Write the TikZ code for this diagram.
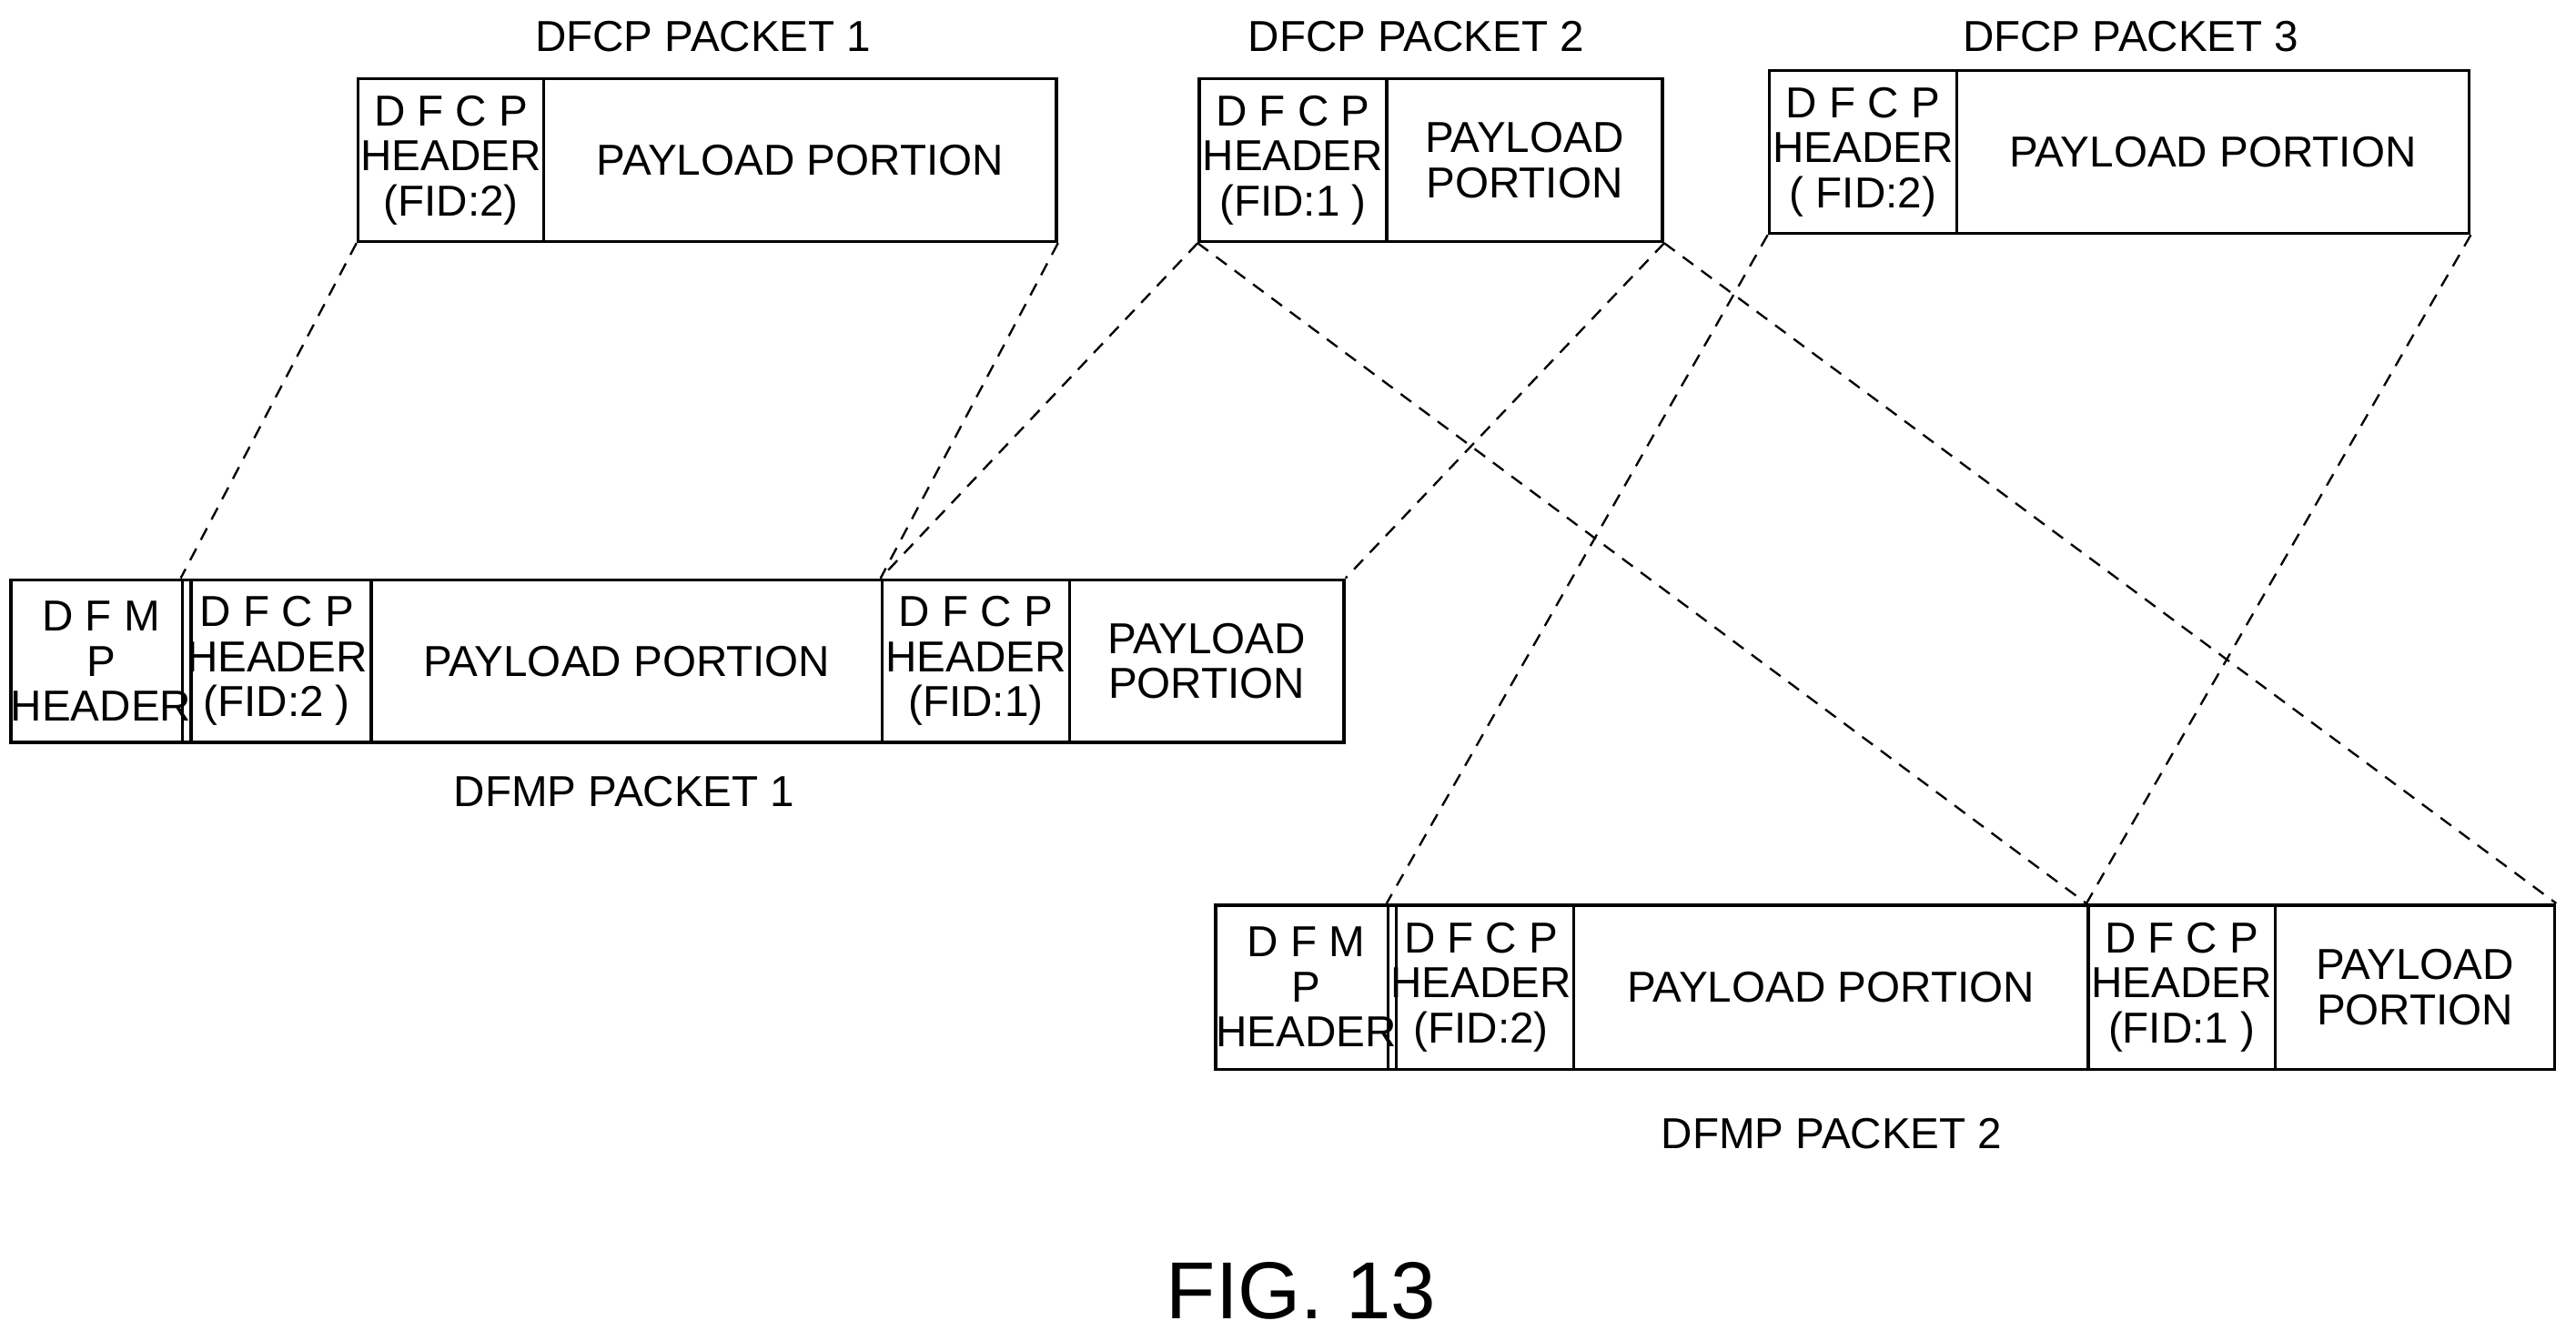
\documentclass[tikz,border=0pt]{standalone}
\usepackage{fontspec}
\setmainfont{Liberation Sans}
\begin{document}
\begin{tikzpicture}[x=0.1mm,y=-0.1mm,
  cell/.style={draw,line width=0.2mm,inner sep=0pt,align=center,font=\fontsize{7.5}{7.8}\selectfont},
  lbl/.style={font=\fontsize{7.5}{9}\selectfont},
  conn/.style={dashed,line width=0.13mm,dash pattern=on 0.8mm off 0.6mm}]
\useasboundingbox (0,0) rectangle (1568,816);
% DFCP packet 1
\node[cell,minimum width=11.3mm,minimum height=9.9mm] (a1) at (274.5,97.5) {D F C P\\HEADER\\(FID:2)};
\node[cell,minimum width=31.2mm,minimum height=9.9mm] (a2) at (487,97.5) {PAYLOAD PORTION};
% DFCP packet 2
\node[cell,minimum width=11.4mm,minimum height=9.9mm] (b1) at (787,97.5) {D F C P\\HEADER\\(FID:1 )};
\node[cell,minimum width=16.8mm,minimum height=9.9mm] (b2) at (928,97.5) {PAYLOAD\\PORTION};
% DFCP packet 3
\node[cell,minimum width=11.4mm,minimum height=9.9mm] (c1) at (1134,92.5) {D F C P\\HEADER\\( FID:2)};
\node[cell,minimum width=31.2mm,minimum height=9.9mm] (c2) at (1347,92.5) {PAYLOAD PORTION};
% DFMP packet 1
\node[cell,minimum width=9.9mm,minimum height=9.9mm] (m0) at (61.5,402.5) {D F M\\P\\HEADER};
\node[cell,minimum width=11.5mm,minimum height=9.9mm] (m1) at (168.5,402.5) {D F C P\\HEADER\\(FID:2 )};
\node[cell,minimum width=31.1mm,minimum height=9.9mm] (m2) at (381.5,402.5) {PAYLOAD PORTION};
\node[cell,minimum width=11.4mm,minimum height=9.9mm] (m3) at (594,402.5) {D F C P\\HEADER\\(FID:1)};
\node[cell,minimum width=16.7mm,minimum height=9.9mm] (m4) at (734.5,402.5) {PAYLOAD\\PORTION};
% DFMP packet 2
\node[cell,minimum width=10.0mm,minimum height=10.0mm] (n0) at (795,601) {D F M\\P\\HEADER};
\node[cell,minimum width=11.3mm,minimum height=10.0mm] (n1) at (901.5,601) {D F C P\\HEADER\\(FID:2)};
\node[cell,minimum width=31.3mm,minimum height=10.0mm] (n2) at (1114.5,601) {PAYLOAD PORTION};
\node[cell,minimum width=11.4mm,minimum height=10.0mm] (n3) at (1328,601) {D F C P\\HEADER\\(FID:1 )};
\node[cell,minimum width=17.0mm,minimum height=10.0mm] (n4) at (1470,601) {PAYLOAD\\PORTION};
% labels
\node[lbl] (la) at (428,22) {DFCP PACKET 1};
\node[lbl] (lb) at (862,22) {DFCP PACKET 2};
\node[lbl] (lc) at (1297,22) {DFCP PACKET 3};
\node[lbl] (lm) at (380,482) {DFMP PACKET 1};
\node[lbl] (ln) at (1115,690) {DFMP PACKET 2};
\node[font=\fontsize{14}{16}\selectfont] (fig) at (792,786) {FIG. 13};
% connectors
\draw[conn] (a1.south west) -- (m1.north west);
\draw[conn] (a2.south east) -- (m3.north west);
\draw[conn] (b1.south west) -- (m3.north west);
\draw[conn] (b1.south west) -- (n3.north west);
\draw[conn] (b2.south east) -- (m4.north east);
\draw[conn] (b2.south east) -- (n4.north east);
\draw[conn] (c1.south west) -- (n1.north west);
\draw[conn] (c2.south east) -- (n3.north west);
\end{tikzpicture}
\end{document}
